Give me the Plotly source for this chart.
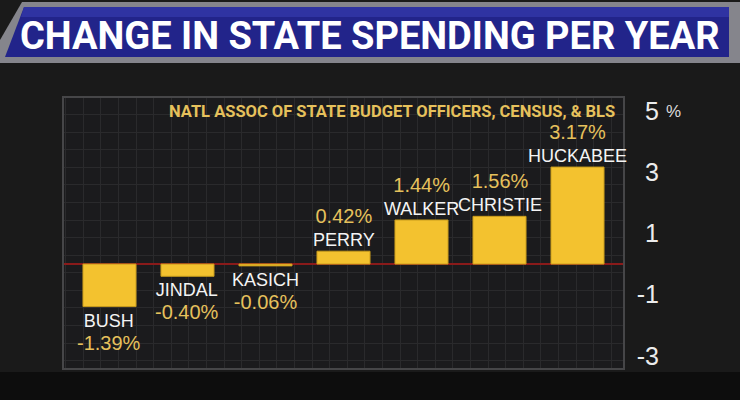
import plotly.graph_objects as go

# ---- data ----
governors = ["BUSH", "JINDAL", "KASICH", "PERRY", "WALKER", "CHRISTIE", "HUCKABEE"]
spending_change = [-1.39, -0.40, -0.06, 0.42, 1.44, 1.56, 3.17]
value_labels = ["-1.39%", "-0.40%", "-0.06%", "0.42%", "1.44%", "1.56%", "3.17%"]
y_ticks = [5, 3, 1, -1, -3]
y_ticktext = ["5", "3", "1", "-1", "-3"]
title_text = "CHANGE IN STATE SPENDING PER YEAR"
source_text = "NATL ASSOC OF STATE BUDGET OFFICERS, CENSUS, & BLS"

W, H = 740, 400
L, R, T, B = 63, 0, 97, 31
plot_w = W - L - R
plot_h = H - T - B
box_right = 624
dom_x = (box_right - L) / plot_w
yaxis_pos = (659 - L) / plot_w

GOLD = "#f3c22f"
GOLD_TXT = "#e6c15c"
NAME_FONT = "Liberation Sans, Arial, sans-serif"
BOLD_FONT = "Roboto, Liberation Sans, Arial, sans-serif"


def px_x(x):
    return (x - L) / plot_w


def px_y(y_from_top):
    return (H - y_from_top - B) / plot_h


fig = go.Figure()
fig.add_trace(go.Bar(
    x=governors, y=spending_change, width=0.68,
    marker=dict(color=GOLD, line=dict(color="#c99c1c", width=1)),
    hoverinfo="skip", showlegend=False,
))
# invisible trace that carries the decorative vertical grid axis
fig.add_trace(go.Scatter(x=[0], y=[0], xaxis="x2", yaxis="y", mode="markers",
                         marker=dict(opacity=0), showlegend=False, hoverinfo="skip"))

annotations = []
for name, v, lab in zip(governors, spending_change, value_labels):
    val_html = f"<span style='font-size:20px;color:{GOLD_TXT}'>{lab}</span>"
    if v >= 0:
        txt = val_html + "<br>" + name
        annotations.append(dict(x=name, y=v, xref="x", yref="y", text=txt, showarrow=False,
                                yanchor="bottom", yshift=0, borderpad=0,
                                font=dict(family=NAME_FONT, size=18, color="#f4f4f4")))
    else:
        txt = name + "<br>" + val_html
        annotations.append(dict(x=name, y=v, xref="x", yref="y", text=txt, showarrow=False,
                                yanchor="top", yshift=-3, borderpad=0,
                                font=dict(family=NAME_FONT, size=18, color="#f4f4f4")))

annotations.append(dict(x=px_x(616), y=px_y(111), xref="paper", yref="paper",
                        text="<b>" + source_text + "</b>", borderpad=0,
                        showarrow=False, xanchor="right", yanchor="middle",
                        font=dict(family=BOLD_FONT, size=16.5, color=GOLD_TXT)))
annotations.append(dict(x=px_x(664), y=5, xref="paper", yref="y", text="%", showarrow=False,
                        xanchor="left", yanchor="middle",
                        font=dict(family=NAME_FONT, size=17, color="#dcdcdc")))
annotations.append(dict(x=px_x(370), y=px_y(36), xref="paper", yref="paper",
                        text="<b>" + title_text + "</b>",
                        showarrow=False, xanchor="center", yanchor="middle",
                        font=dict(family=BOLD_FONT, size=38, color="#ffffff")))


def conv_path(pts):
    return "M " + " L ".join(f"{px_x(x):.5f},{px_y(y):.5f}" for x, y in pts) + " Z"


shapes = [
    # dark bottom strip
    dict(type="rect", xref="paper", yref="paper", x0=px_x(0), x1=px_x(W), y0=px_y(H), y1=px_y(372),
         fillcolor="#0d0d0d", line=dict(width=0), layer="below"),
    # banner frame
    dict(type="path", xref="paper", yref="paper",
         path=conv_path([(22, 2), (W, 2), (W, 63), (0, 63), (0, 40)]),
         fillcolor="#85858c", line=dict(width=0), layer="below"),
    # banner blue
    dict(type="path", xref="paper", yref="paper",
         path=conv_path([(24, 7), (729, 7), (729, 57), (5, 57)]),
         fillcolor="#22248a", line=dict(width=0), layer="below"),
    dict(type="path", xref="paper", yref="paper",
         path=conv_path([(24, 7), (729, 7), (729, 17), (21, 17)]),
         fillcolor="#2f33a2", line=dict(width=0), layer="below"),
    # plot box border
    dict(type="rect", xref="paper", yref="paper", x0=px_x(L), x1=px_x(box_right),
         y0=px_y(369), y1=px_y(97),
         line=dict(color="#464648", width=2), fillcolor="rgba(0,0,0,0)", layer="above"),
]

fig.update_layout(
    width=W, height=H,
    margin=dict(l=L, r=R, t=T, b=B),
    paper_bgcolor="#1a1a1a",
    plot_bgcolor="#1b1b1d",
    xaxis=dict(domain=[0, dom_x], type="category", range=[-0.596, 6.596],
               showticklabels=False, showgrid=False, zeroline=False, ticks="",
               fixedrange=True),
    xaxis2=dict(overlaying="x", range=[0, box_right - L], showticklabels=False,
                showgrid=True, gridcolor="#2a2a2c", gridwidth=1, dtick=17.6, tick0=20.3,
                zeroline=False, ticks="", showline=False),
    yaxis=dict(range=[-3.43, 5.46], anchor="free", position=yaxis_pos, side="left",
               tickvals=y_ticks, ticktext=y_ticktext, ticks="", showline=False,
               tickfont=dict(family=NAME_FONT, size=25, color="#ececec"),
               showgrid=False,
               minor=dict(dtick=0.575, tick0=3.74, showgrid=True, gridcolor="#2a2a2c",
                          gridwidth=1, ticks=""),
               zeroline=True, zerolinecolor="#8a1a1a", zerolinewidth=2),
    annotations=annotations,
    shapes=shapes,
)
fig.write_html("out.html")
